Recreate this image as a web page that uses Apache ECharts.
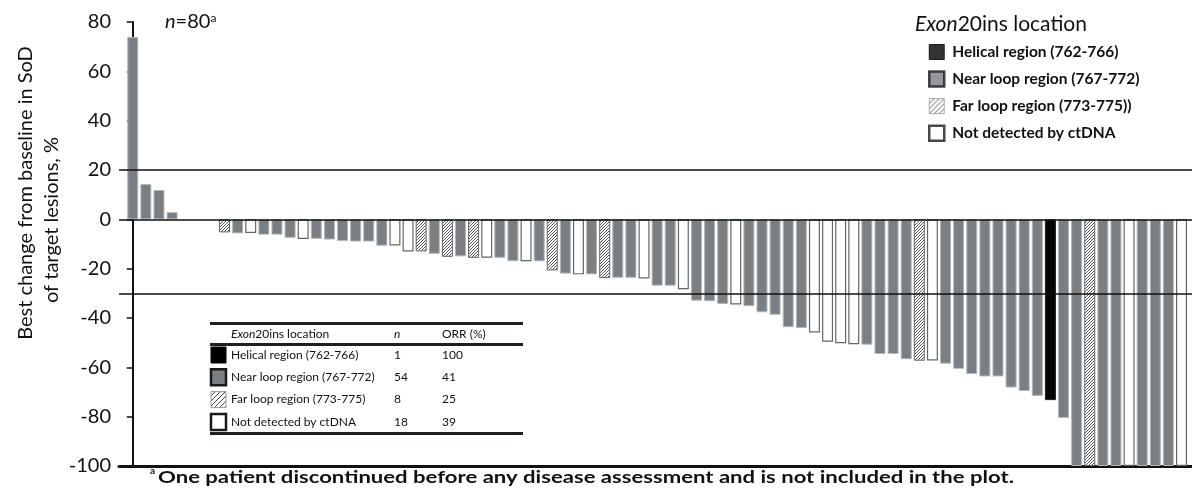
<!DOCTYPE html>
<html>
<head>
<meta charset="utf-8">
<title>Exon20ins waterfall</title>
<script src="https://cdn.jsdelivr.net/npm/echarts@6/dist/echarts.min.js"></script>
<style>
  html, body { margin: 0; padding: 0; background: #fff; }
  #chart { width: 1192px; height: 500px; }
</style>
</head>
<body>
<div id="chart"></div>
<script>
// best change from baseline in SoD (%), one value per patient, in plot order
const changeValues = [
  73.9, 14.3, 11.9, 2.9,
  -5.3, -5.7, -5.5, -6.2, -6.2, -7.5, -8, -7.9, -8.2, -8.8,
  -9, -9, -10.7, -10.6, -13, -13, -14, -15.2, -15, -15.6,
  -15.6, -15.6, -17, -17, -17, -20.7, -22, -22.3, -22.3, -23.8,
  -23.7, -23.7, -24, -26.9, -26.9, -28.3, -33, -33.2, -34.3, -34.5,
  -35.2, -37.7, -38.7, -43.7, -44.1, -45.9, -49.6, -50.2, -50.6, -50.8,
  -54.6, -54.6, -56.7, -57.3, -57.2, -58.5, -60.6, -62.7, -63.7, -63.7,
  -68.2, -69.6, -71.6, -73.3, -80.5, -100, -100, -100, -100, -100,
  -100, -100, -100, -100
]
// exon20ins location per patient: H helical, N near loop, F far loop, U not detected by ctDNA
const locations = [
  'N', 'N', 'N', 'N',
  'F', 'N', 'U', 'N', 'N', 'N', 'U', 'N', 'N', 'N',
  'N', 'N', 'N', 'U', 'U', 'F', 'N', 'F', 'N', 'F',
  'U', 'N', 'N', 'U', 'N', 'F', 'N', 'U', 'N', 'F',
  'N', 'N', 'U', 'N', 'N', 'U', 'N', 'N', 'N', 'U',
  'N', 'N', 'N', 'N', 'N', 'U', 'U', 'U', 'U', 'N',
  'N', 'N', 'N', 'F', 'U', 'N', 'N', 'N', 'N', 'N',
  'N', 'N', 'N', 'H', 'N', 'N', 'F', 'N', 'N', 'U',
  'N', 'N', 'N', 'U'
]
const locationOrder = ['H', 'N', 'F', 'U']
const locationNames = {
  H: 'Helical region (762-766)',
  N: 'Near loop region (767-772)',
  F: 'Far loop region (773-775))',
  U: 'Not detected by ctDNA'
}
const refLines = [20, 0, -30]

// inset table
const tableLabels = ['Helical region (762-766)', 'Near loop region (767-772)', 'Far loop region (773-775)', 'Not detected by ctDNA']
const tableN = [1, 54, 8, 18]
const tableOrr = [100, 41, 25, 39]

const FONT = 'Lato'
const GAP = 3 // empty slots between the growing and shrinking lesions

function hatch(step, color) {
  const c = document.createElement('canvas')
  c.width = step
  c.height = step
  const ctx = c.getContext('2d')
  ctx.fillStyle = '#fff'
  ctx.fillRect(0, 0, step, step)
  ctx.strokeStyle = color
  ctx.lineWidth = 1
  ctx.beginPath()
  ctx.moveTo(0, step)
  ctx.lineTo(step, 0)
  ctx.moveTo(-1, 1)
  ctx.lineTo(1, -1)
  ctx.moveTo(step - 1, step + 1)
  ctx.lineTo(step + 1, step - 1)
  ctx.stroke()
  return { image: c, repeat: 'repeat' }
}

const barStyles = {
  H: { color: '#050505', borderColor: '#222', borderWidth: 1 },
  N: { color: '#7a7f84', borderColor: '#b4b7ba', borderWidth: 1 },
  F: { color: hatch(3, '#555'), borderColor: '#666', borderWidth: 1 },
  U: { color: '#fff', borderColor: '#666', borderWidth: 1.2 }
}
const keyStyles = {
  H: { color: '#000', borderColor: '#000', borderWidth: 1 },
  N: { color: '#7a7f84', borderColor: '#1a1a1a', borderWidth: 2.5 },
  F: { color: hatch(5, '#444'), borderColor: '#999', borderWidth: 1 },
  U: { color: '#fff', borderColor: '#1a1a1a', borderWidth: 2.5 }
}

const barData = changeValues.map((v, i) => ({
  value: [v > 0 ? i : i + GAP, v],
  itemStyle: barStyles[locations[i]]
}))

const txt = (extra) => Object.assign({ fontFamily: FONT, fill: '#111' }, extra)

// inset table built from the arrays
const tableChildren = [
  { type: 'rect', shape: { x: 0, y: 0, width: 313, height: 3 }, style: { fill: '#231f20' } },
  { type: 'rect', shape: { x: 0, y: 21, width: 313, height: 3 }, style: { fill: '#231f20' } },
  { type: 'rect', shape: { x: 0, y: 110, width: 313, height: 3 }, style: { fill: '#231f20' } },
  {
    type: 'text', x: 21, y: 12,
    style: txt({
      text: '{i|Exon}20ins location', fontSize: 12, textVerticalAlign: 'middle',
      rich: { i: { fontStyle: 'italic', fontFamily: FONT, fontSize: 12 } }
    })
  },
  { type: 'text', x: 184, y: 12, style: txt({ text: 'n', fontStyle: 'italic', fontSize: 12, textVerticalAlign: 'middle' }) },
  { type: 'text', x: 232, y: 12, style: txt({ text: 'ORR (%)', fontSize: 12, textVerticalAlign: 'middle' }) }
]
locationOrder.forEach((k, i) => {
  const cy = 33 + i * 22.3
  const ks = keyStyles[k]
  tableChildren.push(
    {
      type: 'rect', shape: { x: 1, y: cy - 8, width: 15, height: 16 },
      style: { fill: ks.color, stroke: ks.borderColor, lineWidth: ks.borderWidth }
    },
    { type: 'text', x: 21, y: cy, style: txt({ text: tableLabels[i], fontSize: 12, textVerticalAlign: 'middle' }) },
    { type: 'text', x: 184, y: cy, style: txt({ text: String(tableN[i]), fontSize: 12, textVerticalAlign: 'middle' }) },
    { type: 'text', x: 232, y: cy, style: txt({ text: String(tableOrr[i]), fontSize: 12, textVerticalAlign: 'middle' }) }
  )
})

const chart = echarts.init(document.getElementById('chart'))
chart.setOption({
  animation: false,
  grid: { left: 119, right: 0, top: 22, bottom: 34, containLabel: false },
  xAxis: {
    type: 'value',
    min: -1.05,
    max: 80.8,
    axisLine: { onZero: false, lineStyle: { color: '#111', width: 3 } },
    axisTick: { show: false },
    axisLabel: { show: false },
    splitLine: { show: false }
  },
  yAxis: {
    type: 'value',
    min: -100,
    max: 80,
    interval: 20,
    axisLine: { show: true, lineStyle: { color: '#111', width: 2 } },
    axisTick: { show: true, length: 6, lineStyle: { color: '#111', width: 1.5 } },
    axisLabel: { color: '#111', fontSize: 20, fontFamily: FONT, margin: 8 },
    splitLine: { show: false }
  },
  legend: {
    orient: 'vertical',
    left: 923,
    top: 39,
    icon: 'rect',
    itemWidth: 15,
    itemHeight: 15,
    itemGap: 10.3,
    selectedMode: false,
    textStyle: { fontFamily: FONT, fontWeight: 'bold', fontSize: 15.5, color: '#111', padding: [0, 0, 0, 3] },
    data: locationOrder.map(k => ({ name: locationNames[k], itemStyle: keyStyles[k] }))
  },
  graphic: [
    {
      type: 'text', x: 915, y: 24,
      style: txt({
        text: '{i|Exon}20ins location', fontSize: 21, textVerticalAlign: 'middle',
        rich: { i: { fontStyle: 'italic', fontFamily: FONT, fontSize: 21 } }
      })
    },
    {
      type: 'text', x: 165, y: 22,
      style: txt({
        text: '{i|n}=80{s|a}', fontSize: 20, textVerticalAlign: 'middle',
        rich: {
          i: { fontStyle: 'italic', fontFamily: FONT, fontSize: 20 },
          s: { fontFamily: FONT, fontSize: 12, verticalAlign: 'top' }
        }
      })
    },
    {
      type: 'text', x: 26, y: 193, rotation: Math.PI / 2,
      style: txt({ text: 'Best change from baseline in SoD', fontSize: 20, textAlign: 'center', textVerticalAlign: 'middle' })
    },
    {
      type: 'text', x: 52, y: 220, rotation: Math.PI / 2,
      style: txt({ text: 'of target lesions, %', fontSize: 20, textAlign: 'center', textVerticalAlign: 'middle' })
    },
    { type: 'group', x: 210, y: 322, children: tableChildren },
    { type: 'text', x: 150, y: 471, style: txt({ text: 'a', fontSize: 10, fontWeight: 'bold', textVerticalAlign: 'middle' }) },
    {
      type: 'text', x: 158, y: 478, scaleX: 1.3,
      style: txt({
        text: 'One patient discontinued before any disease assessment and is not included in the plot.',
        fontSize: 17, fontWeight: 'bold', textVerticalAlign: 'middle'
      })
    }
  ],
  series: [
    {
      type: 'bar',
      data: barData,
      barWidth: 11,
      silent: true,
      markLine: {
        silent: true,
        symbol: ['none', 'none'],
        label: { show: false },
        lineStyle: { color: '#111', width: 1.5, type: 'solid' },
        data: refLines.map(y => ({ yAxis: y }))
      }
    },
    ...locationOrder.map(k => ({
      type: 'scatter',
      name: locationNames[k],
      data: [],
      itemStyle: keyStyles[k]
    }))
  ]
})
</script>
</body>
</html>
